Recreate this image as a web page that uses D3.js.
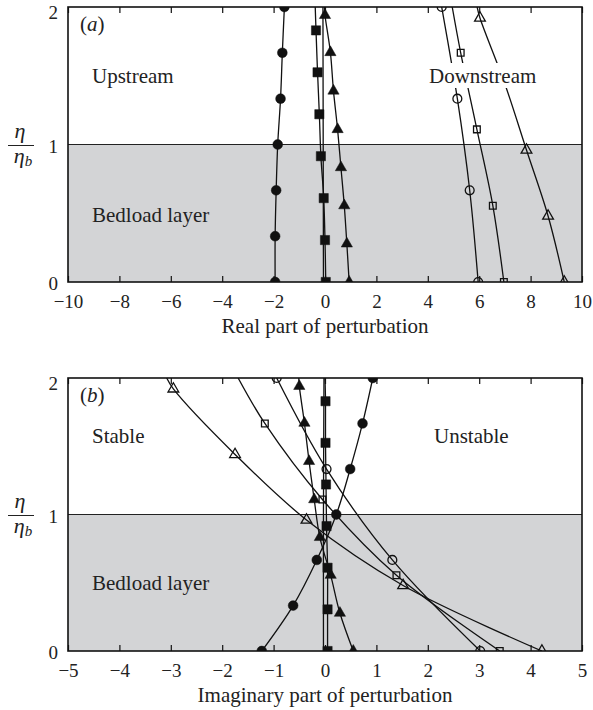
<!DOCTYPE html>
<html>
<head>
<meta charset="utf-8">
<script src="https://cdn.jsdelivr.net/npm/d3@7"></script>
<style>
    body { margin: 0; background: #fff; }
    text { font-family: "Liberation Serif", "Times New Roman", serif; fill: #222; }
</style>
</head>
<body>
<div id="chart"></div>
<script>
// Heights (eta / eta_b) of the points along each curve, with the real (a) and imaginary (b) parts
var etaFilledCircle = [0, 0.333, 0.667, 1, 1.333, 1.667, 2];
var realFilledCircle = [-1.94, -1.94, -1.90, -1.84, -1.73, -1.66, -1.58];
var imagFilledCircle = [-1.23, -0.62, -0.16, 0.22, 0.49, 0.73, 0.93];

var etaFilledSquare = [0, 0.305, 0.61, 0.915, 1.22, 1.525, 1.83, 2];
var realFilledSquare = [0.03, 0.0, -0.05, -0.16, -0.22, -0.29, -0.35, -0.38];
var imagFilledSquare = [0.05, 0.05, 0.05, 0.03, 0.02, 0.01, 0.01, 0.0];

var etaFilledTriangle = [0, 0.278, 0.556, 0.833, 1.11, 1.39, 1.67, 1.94, 2];
var realFilledTriangle = [0.94, 0.85, 0.75, 0.62, 0.49, 0.33, 0.21, 0.0, -0.02];
var imagFilledTriangle = [0.55, 0.29, 0.11, -0.10, -0.21, -0.31, -0.40, -0.50, -0.51];

var etaOpenCircle = [0, 0.667, 1.333, 2];
var realOpenCircle = [5.96, 5.63, 5.15, 4.54];
var imagOpenCircle = [3.02, 1.31, 0.03, -0.94];

var etaOpenSquare = [0, 0.555, 1.11, 1.667, 2];
var realOpenSquare = [6.96, 6.53, 5.91, 5.28, 4.95];
var imagOpenSquare = [3.40, 1.39, -0.05, -1.17, -1.69];

var etaOpenTriangle = [0, 0.48, 0.96, 1.44, 1.92, 2];
var realOpenTriangle = [9.31, 8.68, 7.84, 7.0, 6.03, 5.92];
var imagOpenTriangle = [4.22, 1.52, -0.36, -1.75, -2.95, -3.08];

// curve without markers lying close to zero
var etaPlain = [0, 1, 2];
var realPlain = [-0.06, -0.07, -0.08];
var imagPlain = [-0.03, -0.03, -0.02];

// number of leading points of each curve that carry a marker
var markFilledCircle = 7, markFilledSquare = 7, markFilledTriangle = 8;
var markOpenCircle = 4, markOpenSquare = 4, markOpenTriangle = 5;

// tick labels
var realTicks = [-10, -8, -6, -4, -2, 0, 2, 4, 6, 8, 10];
var imagTicks = [-5, -4, -3, -2, -1, 0, 1, 2, 3, 4, 5];
var etaTicks = [0, 1, 2];

var series = [
    { shape: d3.symbolCircle, filled: true, size: 75, eta: etaFilledCircle, real: realFilledCircle, imag: imagFilledCircle, marks: markFilledCircle },
    { shape: d3.symbolSquare, filled: true, size: 85, eta: etaFilledSquare, real: realFilledSquare, imag: imagFilledSquare, marks: markFilledSquare },
    { shape: d3.symbolTriangle, filled: true, size: 55, eta: etaFilledTriangle, real: realFilledTriangle, imag: imagFilledTriangle, marks: markFilledTriangle },
    { shape: d3.symbolCircle, filled: false, size: 62, eta: etaOpenCircle, real: realOpenCircle, imag: imagOpenCircle, marks: markOpenCircle },
    { shape: d3.symbolSquare, filled: false, size: 45, eta: etaOpenSquare, real: realOpenSquare, imag: imagOpenSquare, marks: markOpenSquare },
    { shape: d3.symbolTriangle, filled: false, size: 50, eta: etaOpenTriangle, real: realOpenTriangle, imag: imagOpenTriangle, marks: markOpenTriangle },
    { shape: null, filled: true, size: 0, eta: etaPlain, real: realPlain, imag: imagPlain, marks: 0 }
];

var svg = d3.select("#chart")
    .append("svg")
    .attr("width", 593)
    .attr("height", 710);

var left = 68, right = 582;

drawPanel({
    name: "a", key: "real", top: 7, bottom: 282,
    domain: [-10, 10], ticks: realTicks,
    title: "Real part of perturbation",
    labels: [
        { text: "Upstream", x: 92, y: 83 },
        { text: "Downstream", x: 429, y: 83, boxed: true },
        { text: "Bedload layer", x: 92, y: 222 }
    ]
});

drawPanel({
    name: "b", key: "imag", top: 378, bottom: 651,
    domain: [-5, 5], ticks: imagTicks,
    title: "Imaginary part of perturbation",
    labels: [
        { text: "Stable", x: 92, y: 443 },
        { text: "Unstable", x: 434, y: 443 },
        { text: "Bedload layer", x: 92, y: 590 }
    ]
});

function drawPanel(p) {
    var x = d3.scaleLinear().domain(p.domain).range([left, right]);
    var y = d3.scaleLinear().domain([0, 2]).range([p.bottom, p.top]);

    var g = svg.append("g");

    g.append("clipPath")
        .attr("id", "clip-" + p.name)
        .append("rect")
        .attr("x", left)
        .attr("y", p.top)
        .attr("width", right - left)
        .attr("height", p.bottom - p.top);

    // shaded bedload layer
    g.append("rect")
        .attr("x", left)
        .attr("y", y(1))
        .attr("width", right - left)
        .attr("height", y(0) - y(1))
        .attr("fill", "#d3d4d6");

    g.append("line")
        .attr("x1", left).attr("x2", right)
        .attr("y1", y(1)).attr("y2", y(1))
        .attr("stroke", "#222")
        .attr("stroke-width", 1.2);

    var plot = g.append("g").attr("clip-path", "url(#clip-" + p.name + ")");

    var line = d3.line()
        .x(function(d) { return x(d.v); })
        .y(function(d) { return y(d.eta); })
        .curve(d3.curveCatmullRom);

    series.forEach(function(s) {
        var pts = s.eta.map(function(e, i) { return { eta: e, v: s[p.key][i] }; });

        plot.append("path")
            .attr("d", line(pts))
            .attr("fill", "none")
            .attr("stroke", "#111")
            .attr("stroke-width", 1.3);

        if (!s.shape) return;
        plot.selectAll(null)
            .data(pts.slice(0, s.marks))
            .enter().append("path")
            .attr("d", d3.symbol().type(s.shape).size(s.size))
            .attr("transform", function(d) { return "translate(" + x(d.v) + "," + y(d.eta) + ")"; })
            .attr("fill", s.filled ? "#111" : "none")
            .attr("stroke", "#111")
            .attr("stroke-width", s.filled ? 0.5 : 1.3);
    });

    // region labels (Downstream sits on a white box that hides the curves)
    p.labels.forEach(function(l) {
        var t = g.append("text")
            .attr("x", l.x)
            .attr("y", l.y)
            .attr("font-size", 21)
            .text(l.text);
        if (l.boxed) {
            var bb = t.node().getBBox();
            g.insert("rect", function() { return t.node(); })
                .attr("x", bb.x - 3)
                .attr("y", l.y - 20)
                .attr("width", bb.width + 6)
                .attr("height", 25)
                .attr("fill", "#fff");
        }
    });

    // panel tag (a) / (b)
    var tag = g.append("text")
        .attr("x", 80)
        .attr("y", p.top + 24)
        .attr("font-size", 21);
    tag.append("tspan").text("(");
    tag.append("tspan").style("font-style", "italic").text(p.name);
    tag.append("tspan").text(")");

    // inward ticks on bottom and top
    var bottomAxis = g.append("g")
        .attr("transform", "translate(0," + p.bottom + ")")
        .call(d3.axisBottom(x).tickValues(p.ticks).tickSizeInner(-6).tickSizeOuter(0).tickPadding(13));
    var topAxis = g.append("g")
        .attr("transform", "translate(0," + p.top + ")")
        .call(d3.axisTop(x).tickValues(p.ticks).tickSizeInner(-6).tickSizeOuter(0).tickFormat(""));
    var leftAxis = g.append("g")
        .attr("transform", "translate(" + left + ",0)")
        .call(d3.axisLeft(y).tickValues(etaTicks).tickSize(0).tickPadding(10).tickFormat(d3.format("d")));

    [bottomAxis, topAxis, leftAxis].forEach(function(a) {
        a.select(".domain").remove();
        a.selectAll("line").attr("stroke", "#111").attr("stroke-width", 1.2);
        a.attr("font-size", 19).attr("font-family", null);
    });

    // the labels sit a little below their grid line, as in the print
    leftAxis.selectAll("text").attr("dy", function(d) { return d === 2 ? "0.6em" : "0.4em"; });

    // frame
    g.append("rect")
        .attr("x", left)
        .attr("y", p.top)
        .attr("width", right - left)
        .attr("height", p.bottom - p.top)
        .attr("fill", "none")
        .attr("stroke", "#111")
        .attr("stroke-width", 1.6);

    // axis title
    g.append("text")
        .attr("x", (left + right) / 2)
        .attr("y", p.bottom + 51)
        .attr("text-anchor", "middle")
        .attr("font-size", 21)
        .text(p.title);

    // eta / eta_b fraction
    var mid = y(1);
    g.append("text")
        .attr("x", 20)
        .attr("y", mid - 7)
        .attr("text-anchor", "middle")
        .attr("font-size", 22)
        .style("font-style", "italic")
        .text("η");
    g.append("line")
        .attr("x1", 8).attr("x2", 34)
        .attr("y1", mid + 1).attr("y2", mid + 1)
        .attr("stroke", "#222")
        .attr("stroke-width", 1);
    var den = g.append("text")
        .attr("x", 23)
        .attr("y", mid + 18)
        .attr("text-anchor", "middle")
        .attr("font-size", 22)
        .style("font-style", "italic");
    den.append("tspan").text("η");
    den.append("tspan").attr("font-size", 15).attr("dy", 3).text("b");
}
</script>
</body>
</html>
